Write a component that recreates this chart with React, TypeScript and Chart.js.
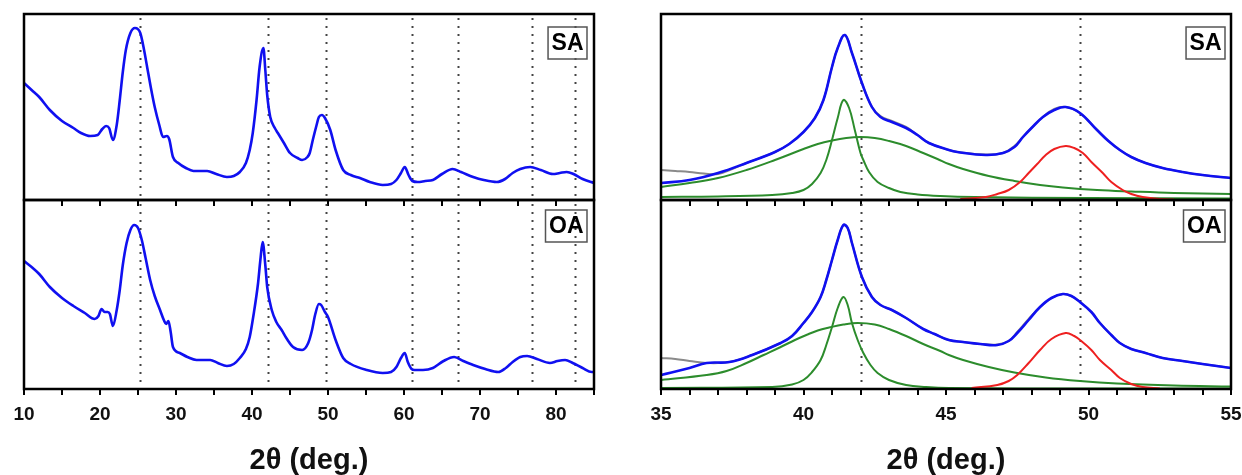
import React, { useEffect, useRef } from "react";
import { Chart, registerables } from "chart.js";

Chart.register(...registerables);

const FONT = '"Liberation Sans", Arial, Helvetica, sans-serif';
const AXIS_TITLE = "2\u03B8 (deg.)";

// ---------- Left panel: full XRD patterns (intensity, a.u.) ----------
const wideX_SA = [10, 11, 12, 13.4, 15, 16.5, 17.5, 18.7, 19.7, 20.3, 20.8, 21.2, 21.7, 22.2, 22.6, 23.0, 23.4, 24.0, 24.6, 25.3, 25.8, 26.2, 26.7, 27.2, 27.8, 28.3, 28.8, 29.1, 29.6, 30.3, 31.3, 32.3, 34.1, 35.3, 36.7, 37.6, 38.4, 39.2, 39.7, 40.1, 40.6, 41.0, 41.5, 41.75, 42.0, 42.4, 43.0, 43.4, 44.2, 45.0, 46.0, 46.6, 47.3, 47.6, 48.0, 48.5, 48.8, 49.2, 49.6, 50.3, 51.0, 52.0, 53.0, 54.2, 55.5, 57.2, 58.3, 59.0, 59.6, 60.1, 60.6, 61.1, 61.8, 62.8, 63.8, 65.0, 66.4, 67.5, 69.1, 70.5, 72.2, 73.3, 74.3, 75.3, 76.6, 78.0, 79.6, 80.5, 81.4, 82.3, 83.5, 85];
const wideY_SA = [117, 110, 103, 90, 79, 72, 67, 64, 65, 71, 74, 72, 60, 75, 100, 128, 150, 167, 172, 167, 150, 133, 112, 93, 75, 63, 64, 61, 43, 37, 32, 29, 29, 26, 23, 24, 28, 37, 50, 67, 100, 133, 152, 130, 105, 83, 72, 67, 57, 47, 42, 40, 43, 47, 60, 75, 83, 85, 82, 70, 50, 30, 25, 22, 18, 15, 16, 20, 27, 33, 25, 19, 18, 19, 20, 26, 31, 28, 23, 20, 18, 21, 27, 31, 33, 30, 26, 27, 28, 26, 21, 17];

const wideX_OA = [10, 11, 12, 13.4, 15, 16.5, 18, 19.3, 19.8, 20.2, 20.6, 21.0, 21.3, 21.7, 22.2, 22.6, 23.0, 23.5, 24.0, 24.5, 25.0, 25.5, 26.0, 26.6, 27.2, 27.9, 28.4, 28.7, 29.0, 29.3, 29.6, 30.5, 31.5, 32.7, 34.5, 35.5, 36.7, 37.6, 38.4, 39.2, 39.7, 40.2, 40.8, 41.1, 41.4, 41.75, 42.0, 42.6, 43.2, 43.9, 44.6, 45.4, 46.6, 47.4, 47.9, 48.3, 48.8, 49.1, 49.6, 50.0, 51.0, 52.0, 53.0, 55.1, 57.2, 58.3, 59.0, 59.6, 60.1, 60.5, 61.0, 61.4, 62.5, 63.8, 65.2, 66.6, 67.8, 69.1, 70.7, 72.4, 73.4, 74.3, 75.3, 76.2, 77.5, 79.2, 80.2, 81.2, 82.2, 83.5, 84.7, 85];
const wideY_OA = [128, 122, 115, 102, 91, 83, 76, 70, 73, 80, 77, 77, 75, 63, 79, 99, 124, 146, 159, 164, 161, 149, 131, 109, 93, 79, 69, 65, 68, 57, 42, 36, 32, 29, 29, 26, 23, 25, 31, 40, 52, 74, 106, 129, 147, 124, 102, 79, 67, 59, 50, 42, 39, 46, 59, 74, 85, 84, 77, 72, 49, 31, 25, 19, 16, 17, 22, 31, 36, 27, 20, 19, 19, 21, 28, 32, 28, 24, 20, 17, 21, 27, 32, 33, 30, 26, 28, 29, 26, 21, 17, 17];

const wideRefLines = [25.3, 42.1, 49.7, 61.0, 67.1, 76.9, 82.5];

// ---------- Right panel: peak fitting, SA ----------
const grayX_SA = [35.0, 35.5, 36.0, 36.5, 37.0, 37.5, 38.0, 39.0, 39.5, 40.0, 40.4, 40.7, 41.0, 41.2, 41.45, 41.7, 42.05, 42.4, 42.7, 43.1, 43.6, 44.0, 44.4, 45.1, 45.4, 46.4, 47.0, 47.4, 47.7, 48.0, 48.4, 48.8, 49.2, 49.7, 50.3, 50.7, 51.1, 51.5, 52.0, 52.6, 53.3, 54.0, 55.0];
const grayY_SA = [30, 29, 28, 26.5, 26, 31, 37, 48, 56, 68, 82, 100, 133, 152, 165, 147, 117, 93, 84, 79, 73, 65, 57, 50, 48, 45.5, 47, 54, 63, 72, 83, 91, 93, 87, 70, 59, 50, 43, 37, 32, 28, 25, 22];

const fitX_SA = [35.0, 36.0, 37.0, 38.0, 39.0, 39.5, 40.0, 40.4, 40.7, 41.0, 41.2, 41.45, 41.7, 42.05, 42.4, 42.7, 43.1, 43.6, 44.0, 44.4, 45.1, 45.4, 46.4, 47.0, 47.4, 47.7, 48.0, 48.4, 48.8, 49.2, 49.7, 50.3, 50.7, 51.1, 51.5, 52.0, 52.6, 53.3, 54.0, 55.0];
const fitY_SA = [17, 20, 27, 37, 48, 56, 68, 82, 100, 133, 152, 165, 147, 117, 93, 83, 78, 72, 65, 57, 50, 48, 45, 47, 53, 63, 72, 83, 90, 93, 87, 70, 59, 50, 43, 37, 32, 28, 25, 22];

const broadX_SA = [35.0, 36.0, 37.0, 38.0, 39.0, 40.0, 40.5, 41.0, 41.5, 42.0, 42.5, 43.0, 43.6, 44.2, 44.7, 45.1, 45.6, 46.5, 47.4, 48.3, 49.1, 50.3, 51.5, 53.0, 55.0];
const broadY_SA = [13, 17, 22, 30, 40, 51, 56, 59.5, 62, 63, 62, 59, 54, 47, 41, 36, 31, 24, 19, 15, 12.5, 10, 8.5, 7, 6];

const narrowX_SA = [35, 37, 38.9, 39.6, 40.0, 40.3, 40.6, 40.8, 41.0, 41.2, 41.4, 41.6, 41.8, 42.0, 42.1, 42.3, 42.6, 43.0, 43.4, 44.0, 44.8, 46, 50, 55];
const narrowY_SA = [3, 3.5, 5, 7, 10, 16, 27, 40, 60, 82, 100, 92, 70, 47, 40, 28, 18, 12, 8, 5.5, 4, 3, 2, 1.5];

const redX_SA = [45.5, 46.4, 46.8, 47.2, 47.6, 47.9, 48.2, 48.5, 48.8, 49.2, 49.5, 49.8, 50.1, 50.5, 50.8, 51.2, 51.5, 51.9, 52.5, 53];
const redY_SA = [1, 3, 6, 10, 18, 27, 36, 45, 51, 54, 52, 47, 38, 27, 18, 10, 6, 3, 1, 0.5];

// ---------- Right panel: peak fitting, OA ----------
const grayX_OA = [35.0, 35.5, 36.0, 36.6, 37.4, 38.2, 39.2, 39.6, 40.0, 40.3, 40.6, 40.8, 41.0, 41.2, 41.4, 41.55, 41.7, 42.05, 42.4, 42.7, 43.1, 43.6, 44.2, 44.6, 45.1, 45.6, 46.2, 46.8, 47.2, 47.5, 47.9, 48.3, 48.7, 49.1, 49.4, 49.7, 50.1, 50.4, 50.8, 51.1, 51.5, 52.0, 52.6, 53.3, 54.0, 55.0];
const grayY_OA = [31, 30, 28, 26, 27, 34, 46, 53, 66, 77, 92, 109, 129, 149, 164, 161, 146, 112, 92, 84, 79, 71, 60, 55, 49, 47, 45, 44.5, 48, 57, 70, 82, 91, 95, 93, 87, 77, 66, 54, 46, 40, 36, 31, 28, 25, 21];

const fitX_OA = [35.0, 36.0, 36.6, 37.4, 38.2, 39.2, 39.6, 40.0, 40.3, 40.6, 40.8, 41.0, 41.2, 41.4, 41.55, 41.7, 42.05, 42.4, 42.7, 43.1, 43.6, 44.2, 44.6, 45.1, 45.6, 46.2, 46.8, 47.2, 47.5, 47.9, 48.3, 48.7, 49.1, 49.4, 49.7, 50.1, 50.4, 50.8, 51.1, 51.5, 52.0, 52.6, 53.3, 54.0, 55.0];
const fitY_OA = [14, 21, 26, 27, 34, 46, 53, 66, 77, 92, 109, 129, 149, 164, 161, 146, 112, 92, 84, 79, 71, 60, 55, 49, 47, 45, 44, 48, 56, 69, 82, 91, 95, 93, 87, 77, 66, 54, 46, 40, 36, 31, 28, 25, 21];

const broadX_OA = [35.0, 36.6, 37.3, 38.0, 38.6, 39.2, 39.7, 40.1, 40.5, 40.9, 41.4, 41.9, 42.5, 43.0, 43.6, 44.2, 44.8, 45.1, 45.6, 46.5, 47.4, 48.5, 49.7, 51.0, 53.0, 55.0];
const broadY_OA = [9, 14, 18, 26, 34, 42, 49, 54, 58.5, 61.5, 64.5, 66, 64.5, 60, 53, 45, 38, 34, 29, 22, 16.5, 11.5, 8, 5.5, 3.5, 2.5];

const narrowX_OA = [35, 38.9, 39.6, 40.0, 40.3, 40.6, 40.8, 41.0, 41.2, 41.4, 41.55, 41.7, 41.9, 42.1, 42.35, 42.6, 43.0, 43.6, 44.3, 45.1, 50, 55];
const narrowY_OA = [1, 2, 4.5, 9, 17, 29, 44, 62, 81, 92, 84, 66, 49, 36, 24, 16, 9, 4, 2, 1, 0.5, 0.5];

const redX_OA = [45.9, 46.8, 47.2, 47.5, 47.9, 48.3, 48.7, 49.2, 49.5, 49.7, 50.1, 50.4, 50.8, 51.1, 51.5, 51.9, 52.5];
const redY_OA = [1, 4, 8, 14, 26, 39, 50, 56, 53, 49, 39, 29, 19, 11, 5, 2, 0.5];

const zoomRefLines = [42.0, 49.7];

const BLUE = "#1010f0";
const GREEN = "#2c8c2c";
const RED = "#ee2020";
const GRAY = "#8a8a8a";

type Series = { xs: number[]; ys: number[]; color: string; width: number; smooth: boolean };

type PlotProps = {
  left: number;
  top: number;
  width: number;
  height: number;
  padLeft: number;
  padTop: number;
  padRight: number;
  axisH: number;
  xMin: number;
  xMax: number;
  step: number;
  labelEvery: number;
  yMax: number;
  series: Series[];
  refLines: number[];
  tag: string;
  tagTop: number;
  tagRight: number;
  showLabels: boolean;
};

function SubPlot(p: PlotProps) {
  const ref = useRef<HTMLCanvasElement | null>(null);

  useEffect(() => {
    const canvas = ref.current;
    if (!canvas) return;

    const refLinePlugin = {
      id: "refLines",
      beforeDatasetsDraw(chart: any) {
        const { ctx, chartArea: a } = chart;
        const xs = chart.scales.x;
        ctx.save();
        ctx.strokeStyle = "#444";
        ctx.lineWidth = 2;
        ctx.setLineDash([2, 6]);
        for (const v of p.refLines) {
          const px = Math.round(xs.getPixelForValue(v)) + 0.5;
          ctx.beginPath();
          ctx.moveTo(px, a.top + 4);
          ctx.lineTo(px, a.bottom - 4);
          ctx.stroke();
        }
        ctx.restore();
      },
    };

    const framePlugin = {
      id: "frame",
      afterDraw(chart: any) {
        const { ctx, chartArea: a } = chart;
        ctx.save();
        ctx.strokeStyle = "#000";
        ctx.lineWidth = 2.5;
        ctx.strokeRect(a.left, a.top, a.right - a.left, a.bottom - a.top);
        ctx.font = `bold 23px ${FONT}`;
        const w = ctx.measureText(p.tag).width + 7;
        const h = 32;
        const x = a.right - p.tagRight - w;
        const y = a.top + p.tagTop;
        ctx.lineWidth = 1.5;
        ctx.strokeStyle = "#555";
        ctx.strokeRect(x, y, w, h);
        ctx.fillStyle = "#000";
        ctx.textAlign = "center";
        ctx.textBaseline = "middle";
        ctx.fillText(p.tag, x + w / 2, y + h / 2 + 1);
        ctx.restore();
      },
    };

    const chart = new Chart(canvas, {
      type: "line",
      data: {
        // Chart.js paints the first dataset on top, so the list is given top-most first
        datasets: p.series.map((s) => ({
          data: s.xs.map((x, i) => ({ x, y: s.ys[i] })),
          borderColor: s.color,
          borderWidth: s.width,
          pointRadius: 0,
          fill: false,
          ...(s.smooth
            ? { tension: 0.4, cubicInterpolationMode: "default" as const }
            : { cubicInterpolationMode: "monotone" as const }),
        })),
      },
      options: {
        responsive: false,
        animation: false,
        events: [],
        layout: { padding: { left: p.padLeft, top: p.padTop, right: p.padRight, bottom: 0 } },
        plugins: { legend: { display: false }, tooltip: { enabled: false } },
        scales: {
          x: {
            type: "linear",
            min: p.xMin,
            max: p.xMax,
            afterFit: (scale: any) => {
              scale.height = p.axisH;
            },
            border: { display: false },
            grid: {
              drawOnChartArea: false,
              drawTicks: true,
              tickLength: 6,
              color: "#000",
              lineWidth: 2,
            },
            ticks: {
              display: p.showLabels,
              stepSize: p.step,
              autoSkip: false,
              maxRotation: 0,
              maxTicksLimit: 200,
              padding: 8,
              color: "#111",
              font: { family: FONT, size: 19, weight: "bold" },
              callback: (v: any) => (Math.round(Number(v)) % p.labelEvery === 0 ? String(v) : ""),
            },
            title: {
              display: p.showLabels,
              text: AXIS_TITLE,
              color: "#111",
              font: { family: FONT, size: 29, weight: "bold", lineHeight: 1.0 },
              padding: { top: 0, bottom: 0 },
            },
          },
          y: { display: false, min: 0, max: p.yMax },
        },
      },
      plugins: [refLinePlugin, framePlugin],
    } as any);

    return () => chart.destroy();
  }, []);

  return (
    <canvas
      ref={ref}
      width={p.width}
      height={p.height}
      style={{ position: "absolute", left: p.left, top: p.top, width: p.width, height: p.height }}
    />
  );
}

export default function App() {
  const wideSA: Series[] = [{ xs: wideX_SA, ys: wideY_SA, color: BLUE, width: 2.6, smooth: false }];
  const wideOA: Series[] = [{ xs: wideX_OA, ys: wideY_OA, color: BLUE, width: 2.6, smooth: false }];
  const zoomSA: Series[] = [
    { xs: fitX_SA, ys: fitY_SA, color: BLUE, width: 2.6, smooth: true },
    { xs: redX_SA, ys: redY_SA, color: RED, width: 2, smooth: true },
    { xs: narrowX_SA, ys: narrowY_SA, color: GREEN, width: 2, smooth: true },
    { xs: broadX_SA, ys: broadY_SA, color: GREEN, width: 2, smooth: true },
    { xs: grayX_SA, ys: grayY_SA, color: GRAY, width: 2, smooth: true },
  ];
  const zoomOA: Series[] = [
    { xs: fitX_OA, ys: fitY_OA, color: BLUE, width: 2.6, smooth: true },
    { xs: redX_OA, ys: redY_OA, color: RED, width: 2, smooth: true },
    { xs: narrowX_OA, ys: narrowY_OA, color: GREEN, width: 2, smooth: true },
    { xs: broadX_OA, ys: broadY_OA, color: GREEN, width: 2, smooth: true },
    { xs: grayX_OA, ys: grayY_OA, color: GRAY, width: 2, smooth: true },
  ];

  return (
    <div
      style={{
        position: "fixed",
        left: 0,
        top: 0,
        width: 1242,
        height: 475,
        overflow: "hidden",
        background: "#fff",
      }}
    >
      <SubPlot left={0} top={0} width={620} height={206} padLeft={24} padTop={14} padRight={26} axisH={6}
        xMin={10} xMax={85} step={5} labelEvery={10} yMax={186} series={wideSA} refLines={wideRefLines}
        tag="SA" tagTop={13} tagRight={7} showLabels={false} />
      <SubPlot left={0} top={190} width={620} height={285} padLeft={24} padTop={10} padRight={26} axisH={86}
        xMin={10} xMax={85} step={5} labelEvery={10} yMax={189} series={wideOA} refLines={wideRefLines}
        tag="OA" tagTop={10} tagRight={7} showLabels={true} />
      <SubPlot left={620} top={0} width={632} height={206} padLeft={41} padTop={14} padRight={21} axisH={6}
        xMin={35} xMax={55} step={1} labelEvery={5} yMax={186} series={zoomSA} refLines={zoomRefLines}
        tag="SA" tagTop={13} tagRight={6} showLabels={false} />
      <SubPlot left={620} top={190} width={632} height={285} padLeft={41} padTop={10} padRight={21} axisH={86}
        xMin={35} xMax={55} step={1} labelEvery={5} yMax={189} series={zoomOA} refLines={zoomRefLines}
        tag="OA" tagTop={10} tagRight={6} showLabels={true} />
    </div>
  );
}
